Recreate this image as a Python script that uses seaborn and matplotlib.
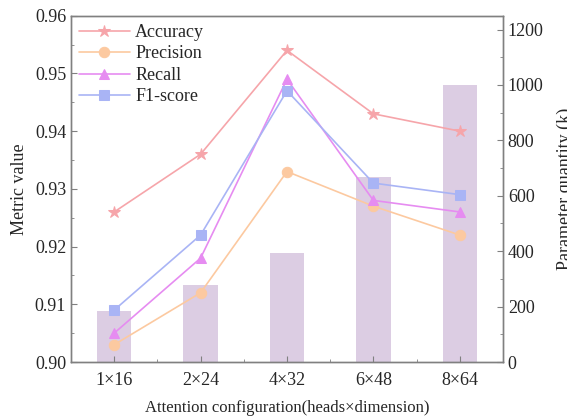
import numpy as np
import pandas as pd
import matplotlib
matplotlib.use("Agg")
import matplotlib.pyplot as plt
import seaborn as sns
from matplotlib.ticker import MultipleLocator, FixedLocator

# --- data ---
configs = ["1×16", "2×24", "4×32", "6×48", "8×64"]
params_k = [184, 278, 392, 669, 1000]
accuracy = [0.926, 0.936, 0.954, 0.943, 0.940]
precision = [0.903, 0.912, 0.933, 0.927, 0.922]
recall = [0.905, 0.918, 0.949, 0.928, 0.926]
f1_score = [0.909, 0.922, 0.947, 0.931, 0.929]

metric_names = ["Accuracy", "Precision", "Recall", "F1-score"]
metric_values = [accuracy, precision, recall, f1_score]
colors = ["#F6A5AA", "#FCC9A0", "#E68CF1", "#A9B4F5"]
markers = ["*", "o", "^", "s"]
msizes = [9, 7.5, 7.5, 6.5]

sns.set_style("ticks")
plt.rcParams["font.family"] = ["Liberation Serif", "DejaVu Serif"]

fig = plt.figure(figsize=(5.67, 4.19), dpi=100)
ax1 = fig.add_axes([0.1252, 0.136, 0.7619, 0.8265])
ax2 = ax1.twinx()

# bars on the secondary axis (behind)
bar_df = pd.DataFrame({"config": configs, "params": params_k})
sns.barplot(data=bar_df, x="config", y="params", ax=ax2, color="#DCCDE3",
            width=0.4, saturation=1, edgecolor="none")
ax2.set_ylim(0, 1250)
ax2.yaxis.set_major_locator(FixedLocator(np.arange(0, 1201, 200)))
ax2.yaxis.set_minor_locator(FixedLocator(np.arange(100, 1201, 200)))
ax2.set_ylabel("Parameter quantity (k)", fontsize=13, labelpad=9)
ax2.set_xlabel("")

# metric lines on the primary axis (front)
ax1.set_zorder(ax2.get_zorder() + 1)
ax1.patch.set_visible(False)
for name, vals, c, m, ms in zip(metric_names, metric_values, colors, markers, msizes):
    df = pd.DataFrame({"config": configs, "value": vals})
    sns.lineplot(data=df, x="config", y="value", ax=ax1, color=c, marker=m,
                 markersize=ms, markeredgecolor=c, linewidth=1.2, label=name,
                 sort=False)

ax1.set_xlim(-0.5, len(configs) - 0.5)
ax1.set_ylim(0.90, 0.96)
ax1.yaxis.set_major_locator(MultipleLocator(0.01))
ax1.yaxis.set_minor_locator(MultipleLocator(0.005))
ax1.yaxis.set_major_formatter(matplotlib.ticker.FormatStrFormatter("%.2f"))
ax1.xaxis.set_minor_locator(FixedLocator(np.arange(0.5, len(configs) - 1, 1.0)))
ax1.set_ylabel("Metric value", fontsize=13, labelpad=5)
ax1.set_xlabel("Attention configuration(heads×dimension)", fontsize=12, labelpad=8)

spine_col = "#808080"
for ax in (ax1, ax2):
    for s in ax.spines.values():
        s.set_color(spine_col)
        s.set_linewidth(1.0)
    ax.tick_params(which="both", direction="in", color=spine_col, labelsize=13)
    ax.tick_params(which="major", length=4)
    ax.tick_params(which="minor", length=2.5)
ax1.tick_params(axis="x", which="both", top=False, pad=7)
ax1.tick_params(axis="y", which="both", right=False)
ax2.tick_params(axis="y", which="both", left=False)

leg = ax1.legend(loc="upper left", frameon=False, fontsize=13, handlelength=2.8,
                 handletextpad=0.3, labelspacing=0.25, borderaxespad=0.1,
                 borderpad=0.35)

fig.savefig("out.png", dpi=100)
